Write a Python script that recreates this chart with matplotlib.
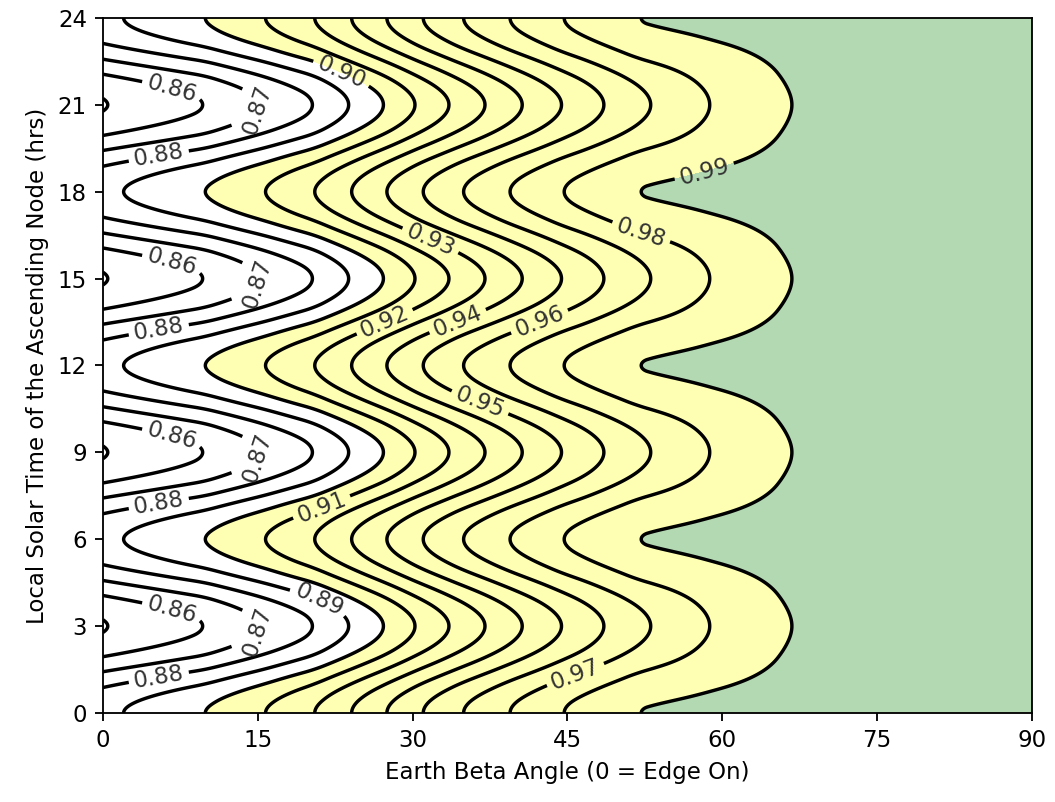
import matplotlib
matplotlib.use('Agg')
import matplotlib.pyplot as plt
import numpy as np

# Contour positions (beta in degrees)
# trough = LTAN 0, 6, 12, 18, 24 ; peak = LTAN 3, 9, 15, 21
trough_beta = [0.0, 2.0, 10.0, 15.8, 20.6, 24.1, 27.5, 31.0, 34.9, 39.4, 44.6, 51.7, 90.0]
trough_z = [0.8875, 0.89, 0.90, 0.91, 0.92, 0.93, 0.94, 0.95, 0.96, 0.97, 0.98, 0.99, 0.999]
peak_beta = [0.0, 9.8, 15.2, 20.4, 23.8, 27.2, 30.2, 33.5, 37.0, 40.6, 44.4, 48.5, 53.0, 58.7, 66.4, 90.0]
peak_z = [0.8495, 0.86, 0.87, 0.88, 0.89, 0.90, 0.91, 0.92, 0.93, 0.94, 0.95, 0.96, 0.97, 0.98, 0.99, 0.998]

levels = [0.85, 0.86, 0.87, 0.88, 0.89, 0.90, 0.91, 0.92, 0.93, 0.94, 0.95, 0.96, 0.97, 0.98, 0.99]
fill_levels = [0.80, 0.90, 0.99, 1.01]
fill_colors = ['white', '#ffffb3', '#b2d9b2']

# label spots (beta, LTAN)
label_pos = [(6.7, 3.6), (6.7, 9.6), (6.7, 15.6), (6.7, 21.6),
             (15.05, 2.8), (15.05, 8.8), (15.05, 14.8), (15.05, 20.8),
             (5.4, 1.25), (5.4, 7.25), (5.4, 13.25), (5.4, 19.25),
             (20.9, 3.9), (23.1, 22.1), (21.2, 7.1), (27.3, 13.5),
             (31.7, 16.3), (34.4, 13.5), (36.5, 10.7), (42.2, 13.6),
             (45.7, 1.4), (52.0, 16.45), (57.8, 19.3)]

beta = np.linspace(0, 90, 901)
ltan = np.linspace(0, 24, 721)


def smooth(y, k=21):
    yp = np.pad(y, k // 2, mode='reflect', reflect_type='odd')
    return np.convolve(yp, np.ones(k) / k, mode='valid')


z_lo = smooth(np.interp(beta, trough_beta, trough_z))
z_hi = smooth(np.interp(beta, peak_beta, peak_z))
w = (1 - np.cos(np.pi * ltan / 3)) / 2
Z = z_lo[None, :] + (z_hi - z_lo)[None, :] * w[:, None]

fig = plt.figure(figsize=(1055 / 165, 802 / 165), dpi=165)
ax = fig.add_axes([0.0976, 0.111, 0.8806, 0.8666])

ax.contourf(beta, ltan, Z, levels=fill_levels, colors=fill_colors)
cs = ax.contour(beta, ltan, Z, levels=levels, colors='k', linewidths=1.5)
ax.clabel(cs, fmt='%.2f', manual=label_pos, inline=True, fontsize=10, colors='#333333')

ax.set_xlim(0, 90)
ax.set_ylim(0, 24)
ax.set_xticks([0, 15, 30, 45, 60, 75, 90])
ax.set_yticks([0, 3, 6, 9, 12, 15, 18, 21, 24])
ax.set_xlabel('Earth Beta Angle (0 = Edge On)')
ax.set_ylabel('Local Solar Time of the Ascending Node (hrs)')

fig.savefig('out.png', dpi=165)
